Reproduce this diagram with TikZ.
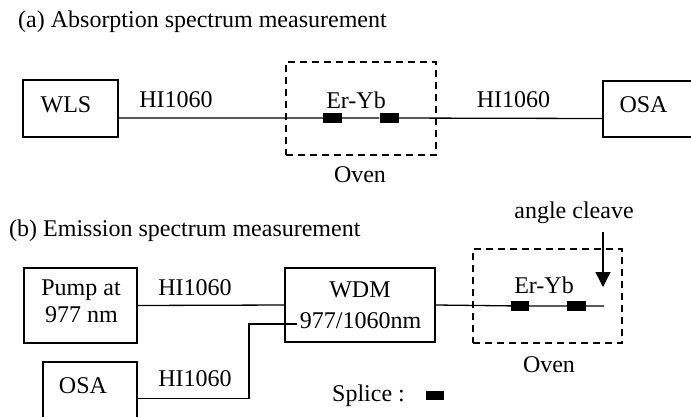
\documentclass[tikz,border=0pt]{standalone}
\usepackage{fontspec}
\setmainfont{Liberation Serif}
\usetikzlibrary{arrows.meta}
\begin{document}
\begin{tikzpicture}[x=1pt,y=-1pt,
  box/.style={draw,line width=1.4pt,inner sep=0pt},
  oven/.style={draw,line width=1.3pt,dash pattern=on 7pt off 5pt,inner sep=0pt},
  splice/.style={fill=black,inner sep=0pt,minimum width=19pt,minimum height=10pt},
  fiber/.style={line width=1.3pt},
  lbl/.style={anchor=base,inner sep=0pt,font=\fontsize{24pt}{28pt}\selectfont},
  lblw/.style={anchor=base west,inner sep=0pt,font=\fontsize{24pt}{28pt}\selectfont}]
\clip (0,0) rectangle (691,416);
\fill[white] (0,0) rectangle (691,416);
% ---------------- (a) ----------------
\node[lblw] (ta) at (18,27) {(a) Absorption spectrum measurement};
\node[box,minimum width=95pt,minimum height=57pt] (wls) at (70.5,108.5) {};
\node[box,minimum width=110pt,minimum height=56pt] (osaA) at (658,109) {};
\node[oven,minimum width=150pt,minimum height=93pt] (ovenA) at (361,108.5) {};
\node[splice] (sa1) at (332.5,118) {};
\node[splice] (sa2) at (389,118) {};
\draw[fiber] ([yshift=-9.5pt]wls.east) -- (sa1) -- (sa2) -- ([yshift=-9.5pt]osaA.west);
\node[splice] at (sa1) {};
\node[splice] at (sa2) {};
\node[lbl] (twls) at (66,112) {WLS};
\node[lbl] (hia1) at (176,107) {HI1060};
\node[lbl] (erA) at (356,108) {Er-Yb};
\node[lbl] (hia2) at (513.5,107) {HI1060};
\node[lbl] (tosaA) at (643.5,112) {OSA};
\node[lbl] (tovenA) at (360,182) {Oven};
% ---------------- (b) ----------------
\node[lblw] (tb) at (9,236) {(b) Emission spectrum measurement};
\node[lbl] (tcleave) at (574,218) {angle cleave};
\node[box,minimum width=113pt,minimum height=75pt] (pump) at (80.5,305.5) {};
\node[box,minimum width=150pt,minimum height=74pt] (wdm) at (360,305) {};
\node[box,minimum width=94pt,minimum height=68pt] (osaB) at (90,396) {};
\node[oven,minimum width=149pt,minimum height=94pt] (ovenB) at (547.5,296) {};
\node[splice,minimum width=18pt] (sb1) at (520,306) {};
\node[splice,minimum width=19pt] (sb2) at (576.5,306) {};
\coordinate (cend) at (604,306);
\coordinate (wdmin) at (297,324);
\coordinate (atop) at (603,232);
\coordinate (atip) at (603,287);
\draw[fiber] (pump.east) -- (wdm.west);
\draw[fiber] (wdm.east) -- (sb1) -- (sb2) -- (cend);
\draw[fiber] ([yshift=-2.5pt]osaB.east) -| ([xshift=-48pt]wdmin) -- (wdmin);
\node[splice,minimum width=18pt] at (sb1) {};
\node[splice,minimum width=19pt] at (sb2) {};
\draw[line width=1.3pt,-{Triangle[width=15pt,length=15pt]}] (atop) -- (atip);
\node[lbl] (tpump1) at (81,295) {Pump at};
\node[lbl] (tpump2) at (81.5,322) {977 nm};
\node[lbl] (hib1) at (195,295) {HI1060};
\node[lbl] (twdm1) at (360,297) {WDM};
\node[lbl] (twdm2) at (360.5,328) {977/1060nm};
\node[lbl] (erB) at (544,293) {Er-Yb};
\node[lbl] (tovenB) at (549,372) {Oven};
\node[lbl] (tosaB) at (83,393) {OSA};
\node[lbl] (hib2) at (195,386) {HI1060};
\node[lblw] (tsplice) at (332,401) {Splice :};
\node[splice,minimum width=18pt,minimum height=9pt] (slegend) at (435,395.5) {};
\end{tikzpicture}
\end{document}
